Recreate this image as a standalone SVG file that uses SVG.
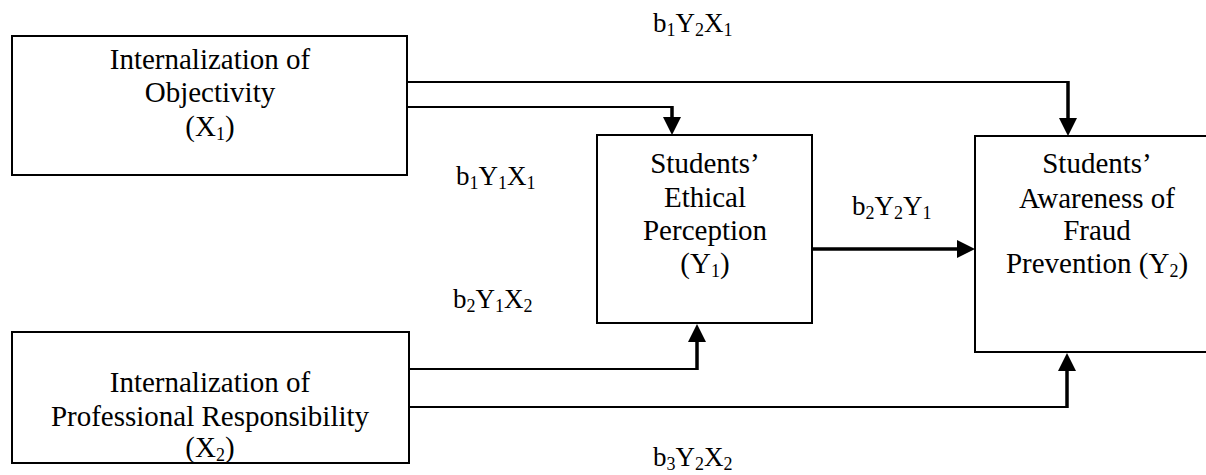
<svg xmlns="http://www.w3.org/2000/svg" width="1206" height="475" viewBox="0 0 1206 475">
  <style>
    .box { fill: #ffffff; stroke: #000000; stroke-width: 2; }
    .t { font-family: "Liberation Serif", Tinos, "Times New Roman", "DejaVu Serif", serif; font-size: 29px; fill: #000000; text-anchor: middle; }
    .lbl { font-family: "Liberation Serif", Tinos, "Times New Roman", "DejaVu Serif", serif; font-size: 27px; fill: #000000; }
    .sub { font-size: 18px; }
    .h { fill: none; stroke: #000000; stroke-width: 2; }
    .v { fill: none; stroke: #000000; stroke-width: 3.5; marker-end: url(#arr); }
  </style>
  <defs>
    <marker id="arr" markerUnits="userSpaceOnUse" markerWidth="18" markerHeight="18" refX="1" refY="9" orient="auto">
      <path d="M0,0 L18,9 L0,18 z" fill="#000000"/>
    </marker>
  </defs>
  <rect width="1206" height="475" fill="#ffffff"/>

  <g id="connectors">
    <polyline class="h" points="407,82 1068,82"/>
    <path class="v" d="M1068,81 L1068,119"/>
    <polyline class="h" points="407,107 672,107"/>
    <path class="v" d="M672,106 L672,118"/>
    <polyline class="h" points="409,369 697,369"/>
    <path class="v" d="M697,370 L697,341"/>
    <polyline class="h" points="409,407 1067,407"/>
    <path class="v" d="M1067,408 L1067,370"/>
    <path class="v" d="M812,249 L958,249"/>
  </g>

  <g id="node-x1">
    <rect class="box" x="12" y="36" width="395" height="139"/>
    <text class="t" x="210" y="69">Internalization of</text>
    <text class="t" x="210" y="102">Objectivity</text>
    <text class="t" x="210" y="136">(X<tspan class="sub" dy="4">1</tspan><tspan dy="-4">)</tspan></text>
  </g>

  <g id="node-x2">
    <rect class="box" x="12" y="332" width="397" height="131"/>
    <text class="t" x="210" y="392">Internalization of</text>
    <text class="t" x="210" y="426">Professional Responsibility</text>
    <text class="t" x="210" y="457">(X<tspan class="sub" dy="4">2</tspan><tspan dy="-4">)</tspan></text>
  </g>

  <g id="node-y1">
    <rect class="box" x="597" y="135" width="215" height="188"/>
    <text class="t" x="705" y="173">Students’</text>
    <text class="t" x="705" y="207">Ethical</text>
    <text class="t" x="705" y="240">Perception</text>
    <text class="t" x="705" y="273">(Y<tspan class="sub" dy="4">1</tspan><tspan dy="-4">)</tspan></text>
  </g>

  <g id="node-y2">
    <rect class="box" x="975" y="136" width="260" height="216"/>
    <text class="t" x="1097" y="173">Students’</text>
    <text class="t" x="1097" y="208">Awareness of</text>
    <text class="t" x="1097" y="240">Fraud</text>
    <text class="t" x="1097" y="273">Prevention (Y<tspan class="sub" dy="4">2</tspan><tspan dy="-4">)</tspan></text>
  </g>

  <g id="labels">
    <text class="lbl" x="653" y="32">b<tspan class="sub" dy="4">1</tspan><tspan dy="-4">Y</tspan><tspan class="sub" dy="4">2</tspan><tspan dy="-4">X</tspan><tspan class="sub" dy="4">1</tspan></text>
    <text class="lbl" x="456" y="185">b<tspan class="sub" dy="4">1</tspan><tspan dy="-4">Y</tspan><tspan class="sub" dy="4">1</tspan><tspan dy="-4">X</tspan><tspan class="sub" dy="4">1</tspan></text>
    <text class="lbl" x="852" y="215">b<tspan class="sub" dy="4">2</tspan><tspan dy="-4">Y</tspan><tspan class="sub" dy="4">2</tspan><tspan dy="-4">Y</tspan><tspan class="sub" dy="4">1</tspan></text>
    <text class="lbl" x="453" y="308">b<tspan class="sub" dy="4">2</tspan><tspan dy="-4">Y</tspan><tspan class="sub" dy="4">1</tspan><tspan dy="-4">X</tspan><tspan class="sub" dy="4">2</tspan></text>
    <text class="lbl" x="653" y="466">b<tspan class="sub" dy="4">3</tspan><tspan dy="-4">Y</tspan><tspan class="sub" dy="4">2</tspan><tspan dy="-4">X</tspan><tspan class="sub" dy="4">2</tspan></text>
  </g>
</svg>
